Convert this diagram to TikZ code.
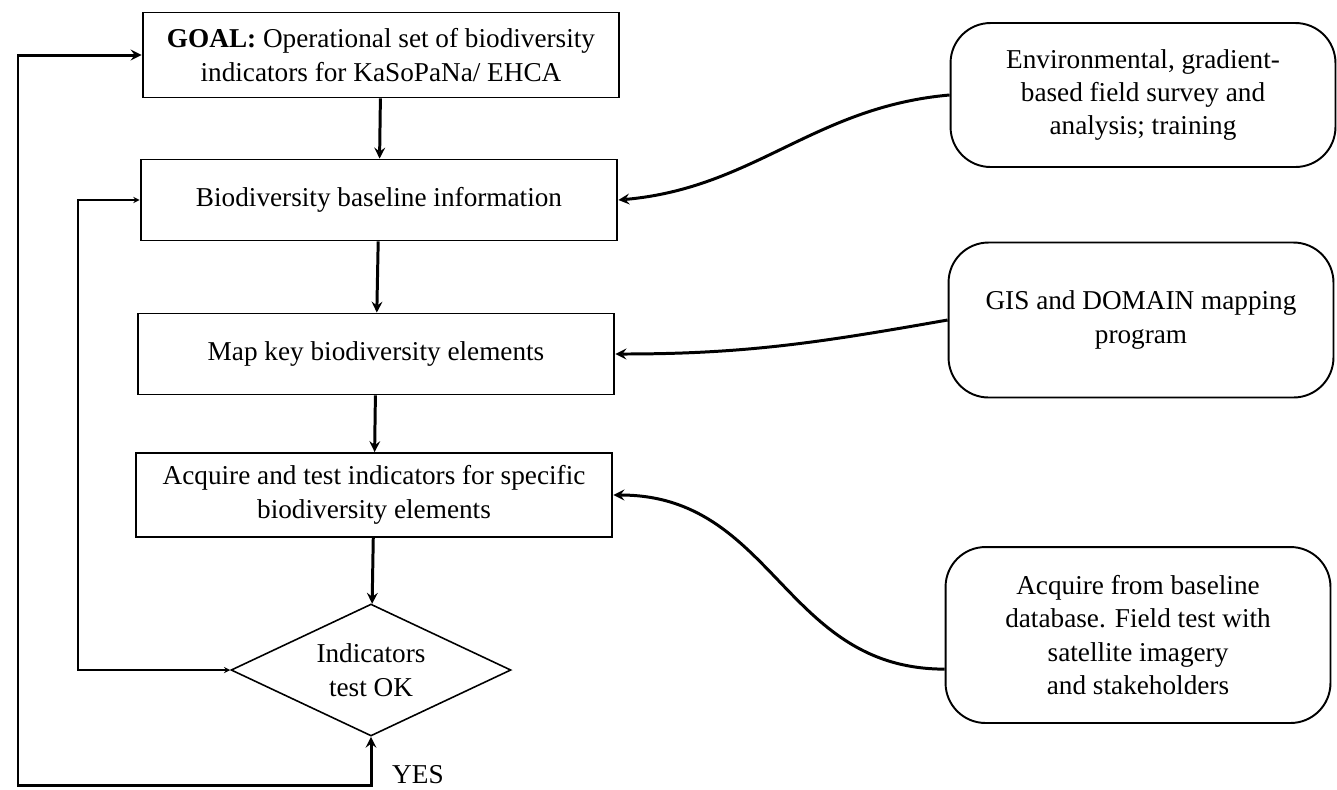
\documentclass[tikz,border=0pt]{standalone}
\usepackage{fontspec}
\setmainfont{Liberation Serif}
\usetikzlibrary{shapes.geometric}

\begin{document}
\begin{tikzpicture}[
  x=0.02cm, y=-0.02cm,
  every node/.style={font=\fontsize{15.5}{19}\selectfont, align=center},
  box/.style={draw, line width=1.1pt, minimum width=9.54cm, minimum height=1.62cm},
  roundbox/.style={draw, line width=1.1pt, rounded corners=0.8cm, minimum width=7.7cm},
  test/.style={draw, diamond, aspect=2.1, line width=0.9pt, minimum width=5.6cm, minimum height=2.64cm, inner sep=0pt},
  link/.style={line width=1.7pt},
  >=stealth
]
  \useasboundingbox (0,0) rectangle (1337,789);

  % main flow
  \node[box, minimum height=1.7cm] (goal) at (381,55) {\textbf{GOAL:} Operational set of biodiversity\\indicators for KaSoPaNa/ EHCA};
  \node[box] (base) at (379,200) {Biodiversity baseline information};
  \node[box] (mapkey) at (376,354) {Map key biodiversity elements};
  \node[box, minimum height=1.68cm] (acq) at (374,495) {Acquire and test indicators for specific\\biodiversity elements};
  \node[test] (check) at (371,670) {Indicators\\test OK};
  \node[anchor=west] (yes) at (386,775) {YES};

  % inputs
  \node[roundbox, minimum height=2.88cm] (survey) at (1143,95) {Environmental, gradient-\\based field survey and\\analysis; training};
  \node[roundbox, minimum height=3.1cm] (mapping) at (1141,320) {GIS and DOMAIN mapping\\program};
  \node[roundbox, minimum height=3.52cm] (field) at (1138,635) {Acquire from baseline\\database. Field test with\\satellite imagery\\and stakeholders};

  \coordinate (outer) at (18,785);
  \coordinate (inner) at (78,670);

  \begin{scope}[link, ->]
    \draw (goal) -- (base);
    \draw (base) -- (mapkey);
    \draw (mapkey) -- (acq);
    \draw (acq) -- (check);
    \draw (survey.west) to[out=185, in=5] (base.east);
    \draw (mapping.west) to[out=190, in=0] (mapkey.east);
    \draw (field.190) to[out=180, in=0, looseness=1.1] (acq.east);
  \end{scope}
  \draw[link, <->] (check.south) |- (outer) |- (goal.west);
  \draw[line width=0.6pt, <->] (check.west) -- (inner) |- (base.west);
\end{tikzpicture}
\end{document}
